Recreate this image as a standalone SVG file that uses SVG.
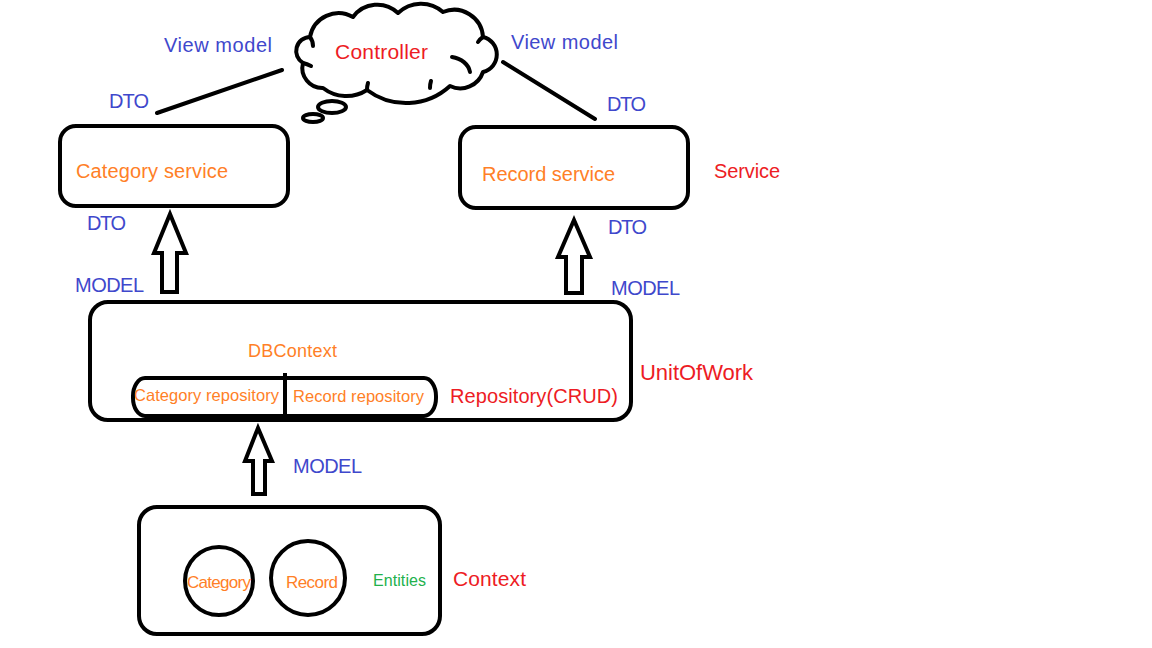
<svg xmlns="http://www.w3.org/2000/svg" width="1152" height="648" viewBox="0 0 1152 648">
<style>
.s{fill:none;stroke:#000;stroke-width:4;stroke-linecap:round;stroke-linejoin:round}
.box{fill:#fff;stroke:#000;stroke-width:4}
.arr{fill:#fff;stroke:#000;stroke-width:4;stroke-linejoin:miter}
text{font-family:"Liberation Sans",Arial,sans-serif}
.b{fill:#3f48cc;font-size:20px}
.r{fill:#ed1c24;font-size:20px}
.o{fill:#ff7f27;font-size:20px}
.os{fill:#ff7f27;font-size:16.5px}
.g{fill:#22b14c;font-size:16px}
</style>
<rect width="1152" height="648" fill="#fff"/>
<g id="connectors">
<line class="s" x1="157" y1="113" x2="282" y2="70"/>
<line class="s" x1="503" y1="62" x2="595" y2="119"/>
<polygon class="arr" points="170,214 154,253 162,253 162,292 177,292 177,253 186,253"/>
<polygon class="arr" points="574,220 558,257 566,257 566,293 582,293 582,257 590,257"/>
<polygon class="arr" points="258,428 245,461 253,461 253,494 265,494 265,461 272,461"/>
</g>
<g id="controller">
<path class="s" style="fill:#fff" d="M310,37 A29,29 0 0 1 353,17 A30,30 0 0 1 398,13 A33,33 0 0 1 443,12 A29,29 0 0 1 483,37 A18,18 0 0 1 483,72 A24,24 0 0 1 450,86 A65,65 0 0 1 367,90 A38,38 0 0 1 323,88 A20,20 0 0 1 303,63 A14,14 0 0 1 310,37 Z"/>
<path class="s" d="M310,37 Q313,41 313,46"/>
<path class="s" d="M452,57 A22,18 0 0 1 470,72"/>
<path class="s" d="M303,63 Q307,64 311,66"/>
<path class="s" d="M367,90 Q367,86 368,83"/>
<path class="s" d="M430,88 Q430,84 431,81"/>
<path class="s" d="M483,37 Q480,39 478,42"/>
<ellipse class="s" cx="332" cy="107" rx="14" ry="6" style="fill:#fff"/>
<ellipse class="s" cx="313" cy="118" rx="10" ry="4" style="fill:#fff"/>
<text class="r" x="335" y="59" textLength="93" style="font-size:21px">Controller</text>
</g>
<g id="labels-top">
<text class="b" x="164" y="52" textLength="108">View model</text>
<text class="b" x="511" y="49" textLength="107">View model</text>
<text class="b" x="109" y="108" textLength="40">DTO</text>
<text class="b" x="607" y="111" textLength="39">DTO</text>
</g>
<g id="category-service">
<rect class="box" x="60" y="126" width="228" height="80" rx="16"/>
<text class="o" x="76" y="178" textLength="152">Category service</text>
</g>
<g id="record-service">
<rect class="box" x="460" y="127" width="228" height="81" rx="16"/>
<text class="o" x="482" y="181" textLength="133">Record service</text>
</g>
<text class="r" x="714" y="178" textLength="66">Service</text>
<text class="b" x="87" y="230" textLength="39">DTO</text>
<text class="b" x="608" y="234" textLength="39">DTO</text>
<text class="b" x="75" y="292" textLength="69">MODEL</text>
<text class="b" x="611" y="295" textLength="69">MODEL</text>
<g id="unit-of-work">
<rect class="box" x="90" y="302" width="541" height="118" rx="18"/>
<text class="os" x="248" y="357" textLength="89" style="font-size:18px">DBContext</text>
<g id="repositories">
<rect class="box" x="133" y="378" width="303" height="38" rx="12" ry="18"/>
<line class="s" x1="285" y1="373" x2="285" y2="416" style="stroke-linecap:butt"/>
<text class="os" x="134" y="401" textLength="145">Category repository</text>
<text class="os" x="293" y="402" textLength="131">Record repository</text>
</g>
<text class="r" x="450" y="403" textLength="168">Repository(CRUD)</text>
<text class="r" x="640" y="380" textLength="113" style="font-size:22px">UnitOfWork</text>
</g>
<text class="b" x="293" y="473" textLength="69">MODEL</text>
<g id="context">
<rect class="box" x="139" y="507" width="301" height="127" rx="18"/>
<circle class="s" cx="219" cy="581" r="34"/>
<circle class="s" cx="308" cy="578" r="37"/>
<text class="os" x="187" y="588" textLength="64" style="font-size:17px">Category</text>
<text class="os" x="286" y="588" textLength="52" style="font-size:17px">Record</text>
<text class="g" x="373" y="586" textLength="53">Entities</text>
<text class="r" x="453" y="586" textLength="73" style="font-size:21px">Context</text>
</g>
</svg>
